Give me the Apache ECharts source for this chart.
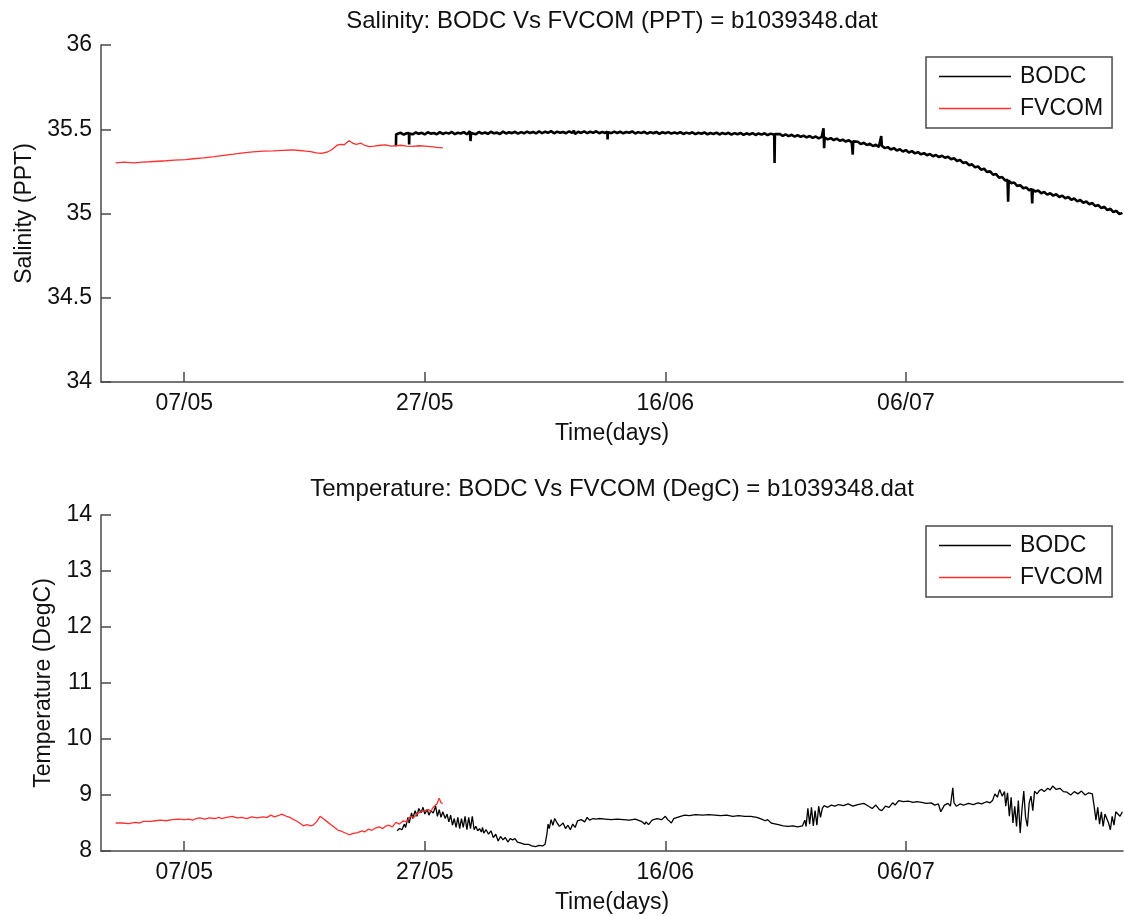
<!DOCTYPE html>
<html>
<head>
<meta charset="utf-8">
<script src="https://cdn.jsdelivr.net/npm/echarts@6/dist/echarts.min.js"></script>
<style>
html,body{margin:0;padding:0;background:#fff;}
#chart{width:1124px;height:916px;}
</style>
</head>
<body>
<div id="chart"></div>
<script>
// ---- data (x = day of year) ----
const tickDays = [127, 147, 167, 187];
const tickLabels = ['07/05', '27/05', '16/06', '06/07'];
const seriesNames = ['BODC', 'FVCOM'];
const titles = ['Salinity: BODC Vs FVCOM (PPT) = b1039348.dat', 'Temperature: BODC Vs FVCOM (DegC) = b1039348.dat'];
const yNames = ['Salinity (PPT)', 'Temperature (DegC)'];
const xName = 'Time(days)';

const fvcomSal = [[121.3,35.30],[122.0,35.305],[122.8,35.30],[123.5,35.305],[124.1,35.307],[124.8,35.31],[125.5,35.313],[126.2,35.317],[127.1,35.32],[127.8,35.325],[128.6,35.33],[129.5,35.337],[130.3,35.345],[131.1,35.352],[131.9,35.36],[132.7,35.366],[133.6,35.37],[134.4,35.372],[135.2,35.375],[136.0,35.377],[136.6,35.374],[137.1,35.37],[137.5,35.367],[138.0,35.36],[138.4,35.357],[138.9,35.365],[139.3,35.38],[139.7,35.405],[140.0,35.41],[140.3,35.408],[140.7,35.432],[141.0,35.418],[141.3,35.41],[141.7,35.417],[142.0,35.405],[142.4,35.397],[142.8,35.40],[143.3,35.405],[143.75,35.407],[144.2,35.40],[144.6,35.402],[145.0,35.405],[145.5,35.40],[146.0,35.398],[146.5,35.402],[147.0,35.40],[147.5,35.397],[148.0,35.392],[148.5,35.39]];

const bodcSal = [[144.6,35.40],[144.62,35.47],[144.75,35.472],[145.0,35.479],[145.25,35.468],[145.5,35.476],[145.68,35.478],[145.7,35.41],[145.72,35.474],[146.0,35.470],[146.25,35.481],[146.5,35.473],[146.75,35.479],[147.0,35.469],[147.25,35.482],[147.5,35.474],[147.75,35.478],[148.0,35.470],[148.25,35.483],[148.5,35.472],[148.75,35.480],[149.0,35.474],[149.25,35.484],[149.5,35.471],[149.75,35.479],[150.0,35.475],[150.25,35.483],[150.5,35.470],[150.75,35.488],[150.8,35.43],[150.85,35.478],[151.0,35.476],[151.25,35.470],[151.5,35.484],[151.75,35.474],[152.0,35.481],[152.25,35.473],[152.5,35.485],[152.75,35.476],[153.0,35.480],[153.25,35.472],[153.5,35.486],[153.75,35.475],[154.0,35.482],[154.25,35.477],[154.5,35.485],[154.75,35.474],[155.0,35.483],[155.25,35.476],[155.5,35.486],[155.75,35.478],[156.0,35.484],[156.25,35.475],[156.5,35.487],[156.75,35.477],[157.0,35.485],[157.25,35.479],[157.5,35.489],[157.75,35.476],[158.0,35.486],[158.25,35.479],[158.5,35.484],[158.75,35.476],[159.0,35.488],[159.25,35.478],[159.4,35.492],[159.5,35.472],[159.75,35.485],[160.0,35.478],[160.25,35.487],[160.5,35.477],[160.75,35.485],[161.0,35.479],[161.25,35.488],[161.5,35.476],[161.75,35.484],[162.0,35.478],[162.18,35.486],[162.2,35.44],[162.22,35.482],[162.5,35.477],[162.75,35.486],[163.0,35.478],[163.25,35.485],[163.5,35.476],[163.75,35.484],[164.0,35.479],[164.25,35.487],[164.5,35.475],[164.75,35.483],[165.0,35.477],[165.25,35.485],[165.5,35.474],[165.75,35.483],[166.0,35.476],[166.25,35.484],[166.5,35.473],[166.75,35.482],[167.0,35.476],[167.25,35.483],[167.5,35.474],[167.75,35.481],[168.0,35.475],[168.25,35.483],[168.5,35.472],[168.75,35.480],[169.0,35.474],[169.25,35.482],[169.5,35.471],[169.75,35.479],[170.0,35.473],[170.25,35.481],[170.5,35.470],[170.75,35.478],[171.0,35.472],[171.25,35.480],[171.5,35.469],[171.75,35.478],[172.0,35.471],[172.25,35.479],[172.5,35.468],[172.75,35.477],[173.0,35.470],[173.25,35.478],[173.5,35.467],[173.75,35.476],[174.0,35.469],[174.25,35.477],[174.5,35.466],[174.75,35.475],[175.0,35.468],[175.25,35.476],[175.5,35.465],[175.75,35.474],[176.05,35.467],[176.08,35.30],[176.11,35.471],[176.25,35.464],[176.5,35.472],[176.75,35.461],[177.0,35.469],[177.25,35.459],[177.5,35.467],[177.75,35.456],[178.0,35.465],[178.25,35.455],[178.5,35.462],[178.75,35.452],[179.0,35.460],[179.25,35.449],[179.5,35.457],[179.75,35.446],[180.0,35.455],[180.15,35.506],[180.2,35.387],[180.25,35.450],[180.5,35.440],[180.75,35.447],[181.0,35.436],[181.25,35.444],[181.5,35.432],[181.75,35.438],[182.0,35.427],[182.25,35.435],[182.5,35.422],[182.58,35.35],[182.62,35.428],[182.75,35.418],[183.0,35.426],[183.25,35.412],[183.5,35.420],[183.75,35.406],[184.0,35.414],[184.25,35.400],[184.5,35.408],[184.75,35.395],[184.95,35.46],[185.0,35.402],[185.25,35.388],[185.5,35.394],[185.75,35.380],[186.0,35.388],[186.25,35.374],[186.5,35.381],[186.75,35.368],[187.0,35.376],[187.25,35.362],[187.5,35.370],[187.75,35.357],[188.0,35.364],[188.25,35.351],[188.5,35.358],[188.75,35.346],[189.0,35.353],[189.25,35.340],[189.5,35.347],[189.75,35.335],[190.0,35.343],[190.25,35.331],[190.5,35.337],[190.75,35.322],[191.0,35.328],[191.25,35.312],[191.5,35.318],[191.75,35.300],[192.0,35.304],[192.25,35.287],[192.5,35.292],[192.75,35.274],[193.0,35.279],[193.25,35.260],[193.5,35.266],[193.75,35.246],[194.0,35.250],[194.25,35.230],[194.5,35.234],[194.75,35.212],[195.0,35.216],[195.25,35.196],[195.45,35.200],[195.5,35.07],[195.55,35.195],[195.75,35.180],[196.0,35.184],[196.25,35.164],[196.5,35.168],[196.75,35.150],[197.0,35.155],[197.25,35.138],[197.45,35.146],[197.5,35.06],[197.55,35.142],[197.75,35.130],[198.0,35.136],[198.25,35.120],[198.5,35.128],[198.75,35.112],[199.0,35.120],[199.25,35.106],[199.5,35.114],[199.75,35.098],[200.0,35.106],[200.25,35.090],[200.5,35.098],[200.75,35.082],[201.0,35.089],[201.25,35.072],[201.5,35.080],[201.75,35.064],[202.0,35.071],[202.25,35.055],[202.5,35.062],[202.75,35.044],[203.0,35.050],[203.25,35.032],[203.5,35.040],[203.75,35.020],[204.0,35.028],[204.25,35.008],[204.5,35.016],[204.75,34.996],[205.0,35.004]];

const fvcomTemp = [[121.3,8.50],[121.8,8.50],[122.4,8.49],[122.9,8.51],[123.3,8.50],[123.6,8.53],[124.2,8.53],[124.6,8.54],[125.0,8.55],[125.5,8.54],[126.0,8.56],[126.5,8.57],[127.0,8.56],[127.4,8.57],[127.7,8.55],[128.0,8.58],[128.3,8.59],[128.7,8.57],[129.1,8.59],[129.5,8.58],[129.9,8.60],[130.1,8.58],[130.5,8.60],[131.0,8.62],[131.4,8.59],[131.8,8.60],[132.2,8.58],[132.6,8.61],[133.1,8.59],[133.5,8.61],[133.9,8.60],[134.2,8.64],[134.5,8.61],[134.8,8.63],[135.1,8.66],[135.5,8.62],[135.8,8.60],[136.0,8.57],[136.3,8.54],[136.6,8.50],[136.9,8.45],[137.2,8.47],[137.5,8.45],[137.7,8.46],[138.0,8.52],[138.3,8.62],[138.6,8.57],[138.9,8.52],[139.2,8.47],[139.5,8.42],[139.8,8.37],[140.0,8.36],[140.3,8.33],[140.7,8.29],[141.0,8.31],[141.4,8.33],[141.8,8.36],[142.0,8.34],[142.3,8.39],[142.6,8.37],[142.9,8.41],[143.2,8.43],[143.5,8.40],[143.8,8.45],[144.0,8.46],[144.3,8.43],[144.6,8.51],[144.9,8.48],[145.2,8.54],[145.5,8.52],[145.8,8.62],[146.1,8.60],[146.4,8.67],[146.7,8.70],[147.0,8.72],[147.3,8.74],[147.5,8.71],[147.7,8.78],[148.0,8.84],[148.2,8.94],[148.35,8.86],[148.5,8.85]];

const bodcTemp = [[144.7,8.36],[144.9,8.40],[145.1,8.38],[145.3,8.48],[145.4,8.42],[145.6,8.60],[145.7,8.50],[145.9,8.68],[146.0,8.58],[146.2,8.72],[146.35,8.62],[146.5,8.76],[146.7,8.68],[146.85,8.78],[147.0,8.66],[147.2,8.74],[147.35,8.64],[147.5,8.72],[147.7,8.68],[147.9,8.80],[148.05,8.62],[148.2,8.74],[148.35,8.60],[148.5,8.70],[148.7,8.58],[148.85,8.66],[149.0,8.52],[149.15,8.64],[149.3,8.46],[149.45,8.58],[149.6,8.42],[149.75,8.60],[149.9,8.40],[150.05,8.58],[150.2,8.42],[150.35,8.62],[150.5,8.38],[150.65,8.60],[150.8,8.40],[150.95,8.62],[151.1,8.38],[151.25,8.44],[151.4,8.36],[151.55,8.40],[151.7,8.34],[151.8,8.42],[151.9,8.32],[152.1,8.38],[152.3,8.30],[152.5,8.36],[152.7,8.24],[152.9,8.30],[153.1,8.18],[153.3,8.26],[153.5,8.20],[153.7,8.24],[153.9,8.16],[154.1,8.22],[154.3,8.20],[154.5,8.22],[154.7,8.16],[155.0,8.14],[155.3,8.12],[155.6,8.12],[155.9,8.09],[156.2,8.08],[156.5,8.10],[156.8,8.09],[157.0,8.12],[157.15,8.30],[157.25,8.48],[157.35,8.40],[157.5,8.56],[157.65,8.46],[157.8,8.58],[158.0,8.50],[158.2,8.44],[158.5,8.50],[158.7,8.40],[158.9,8.46],[159.1,8.38],[159.3,8.48],[159.5,8.42],[159.7,8.54],[160.0,8.56],[160.3,8.52],[160.5,8.60],[160.7,8.55],[161.0,8.58],[161.2,8.57],[161.5,8.58],[162.0,8.57],[162.5,8.56],[163.0,8.57],[163.5,8.56],[164.0,8.55],[164.5,8.57],[165.0,8.53],[165.3,8.48],[165.4,8.52],[165.6,8.47],[165.9,8.55],[166.3,8.58],[166.7,8.56],[167.0,8.62],[167.2,8.56],[167.5,8.50],[167.7,8.58],[168.0,8.60],[168.6,8.64],[169.0,8.63],[169.5,8.65],[170.1,8.64],[170.6,8.65],[171.1,8.64],[171.6,8.63],[172.1,8.64],[172.6,8.62],[173.1,8.63],[173.6,8.62],[174.1,8.62],[174.6,8.60],[175.0,8.57],[175.3,8.54],[175.5,8.56],[175.8,8.50],[176.0,8.49],[176.4,8.47],[176.8,8.45],[177.2,8.44],[177.6,8.45],[178.0,8.43],[178.4,8.45],[178.6,8.55],[178.7,8.44],[178.85,8.76],[179.0,8.48],[179.15,8.78],[179.3,8.45],[179.45,8.72],[179.6,8.46],[179.75,8.80],[179.9,8.60],[180.05,8.76],[180.2,8.81],[180.5,8.78],[180.8,8.82],[181.1,8.80],[181.4,8.83],[181.8,8.81],[182.2,8.84],[182.6,8.80],[183.0,8.83],[183.5,8.85],[183.9,8.80],[184.2,8.76],[184.5,8.82],[184.8,8.74],[185.0,8.72],[185.3,8.80],[185.6,8.78],[185.9,8.86],[186.1,8.82],[186.4,8.90],[186.8,8.88],[187.2,8.89],[187.6,8.87],[187.9,8.88],[188.3,8.87],[188.7,8.85],[189.1,8.86],[189.4,8.82],[189.7,8.84],[189.9,8.70],[190.0,8.67],[190.2,8.82],[190.5,8.85],[190.7,8.80],[190.9,9.13],[191.0,8.86],[191.2,8.80],[191.5,8.84],[191.8,8.82],[192.2,8.85],[192.6,8.83],[193.0,8.86],[193.3,8.84],[193.7,8.88],[194.0,8.86],[194.2,8.90],[194.4,9.02],[194.6,8.96],[194.8,9.10],[195.0,8.98],[195.2,9.06],[195.3,8.80],[195.45,9.04],[195.6,8.62],[195.75,8.96],[195.9,8.50],[196.05,8.80],[196.2,8.44],[196.35,8.90],[196.5,8.32],[196.65,8.74],[196.8,9.07],[196.95,8.60],[197.1,8.44],[197.25,8.86],[197.4,8.98],[197.55,8.72],[197.7,9.07],[197.9,9.02],[198.1,9.08],[198.3,9.10],[198.5,9.06],[198.8,9.12],[199.0,9.09],[199.2,9.16],[199.5,9.10],[199.8,9.12],[200.1,9.06],[200.4,9.05],[200.7,9.00],[201.0,9.06],[201.3,9.02],[201.6,9.07],[201.9,9.00],[202.2,9.04],[202.5,9.02],[202.65,8.80],[202.8,8.55],[202.95,8.78],[203.1,8.48],[203.25,8.70],[203.4,8.44],[203.55,8.66],[203.7,8.67],[203.85,8.50],[204.0,8.38],[204.15,8.62],[204.3,8.46],[204.45,8.70],[204.6,8.73],[204.8,8.62],[205.0,8.70]];

// ---- chart ----
const FONT = 'Liberation Sans, Arial, sans-serif';
const FS = 23;
const axisColor = '#4a4a4a';
const chart = echarts.init(document.getElementById('chart'), null, {renderer: 'canvas'});

function xAxis(gi) {
  return {
    type: 'value', gridIndex: gi, min: 120.08, max: 205.05,
    name: xName, nameLocation: 'middle', nameGap: 40,
    nameTextStyle: {fontFamily: FONT, fontSize: FS, color: '#111'},
    axisLine: {show: true, lineStyle: {color: axisColor, width: 1.5}},
    axisTick: {show: true, inside: true, length: 10, customValues: tickDays, lineStyle: {color: axisColor, width: 1.5}},
    axisLabel: {show: true, customValues: tickDays, margin: 10, fontFamily: FONT, fontSize: FS, color: '#111',
      formatter: v => { const i = tickDays.indexOf(Math.round(v)); return i >= 0 ? tickLabels[i] : ''; }},
    splitLine: {show: false}
  };
}
function yAxis(gi, min, max, interval, gap) {
  return {
    type: 'value', gridIndex: gi, min: min, max: max, interval: interval,
    name: yNames[gi], nameLocation: 'middle', nameGap: gap, nameRotate: 90,
    nameTextStyle: {fontFamily: FONT, fontSize: FS, color: '#111'},
    axisLine: {show: true, lineStyle: {color: axisColor, width: 1.5}},
    axisTick: {show: true, inside: true, length: 10, lineStyle: {color: axisColor, width: 1.5}},
    axisLabel: {show: true, margin: 9, fontFamily: FONT, fontSize: FS, color: '#111'},
    splitLine: {show: false}
  };
}
function legend(top) {
  return {
    show: true, orient: 'vertical', left: 926, top: top,
    data: seriesNames, icon: 'rect', itemWidth: 72, itemHeight: 1.5, itemGap: 9,
    padding: [8, 9, 8, 13], borderColor: axisColor, borderWidth: 1.5, borderRadius: 0,
    backgroundColor: '#fff',
    textStyle: {fontFamily: FONT, fontSize: FS, color: '#111', lineHeight: 23, padding: [0, 0, 0, 4]}
  };
}
function line(name, data, gi, color, width) {
  return {
    type: 'line', name: name, data: data, xAxisIndex: gi, yAxisIndex: gi,
    symbol: 'none', showSymbol: false, smooth: false, animation: false,
    lineStyle: {color: color, width: width}, itemStyle: {color: color},
    emphasis: {disabled: true}
  };
}

chart.setOption({
  animation: false,
  backgroundColor: '#fff',
  title: [
    {text: titles[0], left: 612, top: 9, textAlign: 'center', padding: 0,
     textStyle: {fontFamily: FONT, fontSize: 24, fontWeight: 'normal', color: '#111'}},
    {text: titles[1], left: 612, top: 477, textAlign: 'center', padding: 0,
     textStyle: {fontFamily: FONT, fontSize: 24, fontWeight: 'normal', color: '#111'}}
  ],
  grid: [
    {left: 101, top: 45, width: 1022, height: 337, containLabel: false},
    {left: 101, top: 515, width: 1022, height: 336, containLabel: false}
  ],
  xAxis: [xAxis(0), xAxis(1)],
  yAxis: [yAxis(0, 34, 36, 0.5, 63), yAxis(1, 8, 14, 1, 44)],
  legend: [legend(57), legend(526)],
  series: [
    line(seriesNames[0], bodcSal, 0, '#000', 2.6),
    line(seriesNames[1], fvcomSal, 0, '#ff3030', 1.3),
    line(seriesNames[0], bodcTemp, 1, '#000', 1.3),
    line(seriesNames[1], fvcomTemp, 1, '#ff3030', 1.3)
  ]
});
</script>
</body>
</html>
